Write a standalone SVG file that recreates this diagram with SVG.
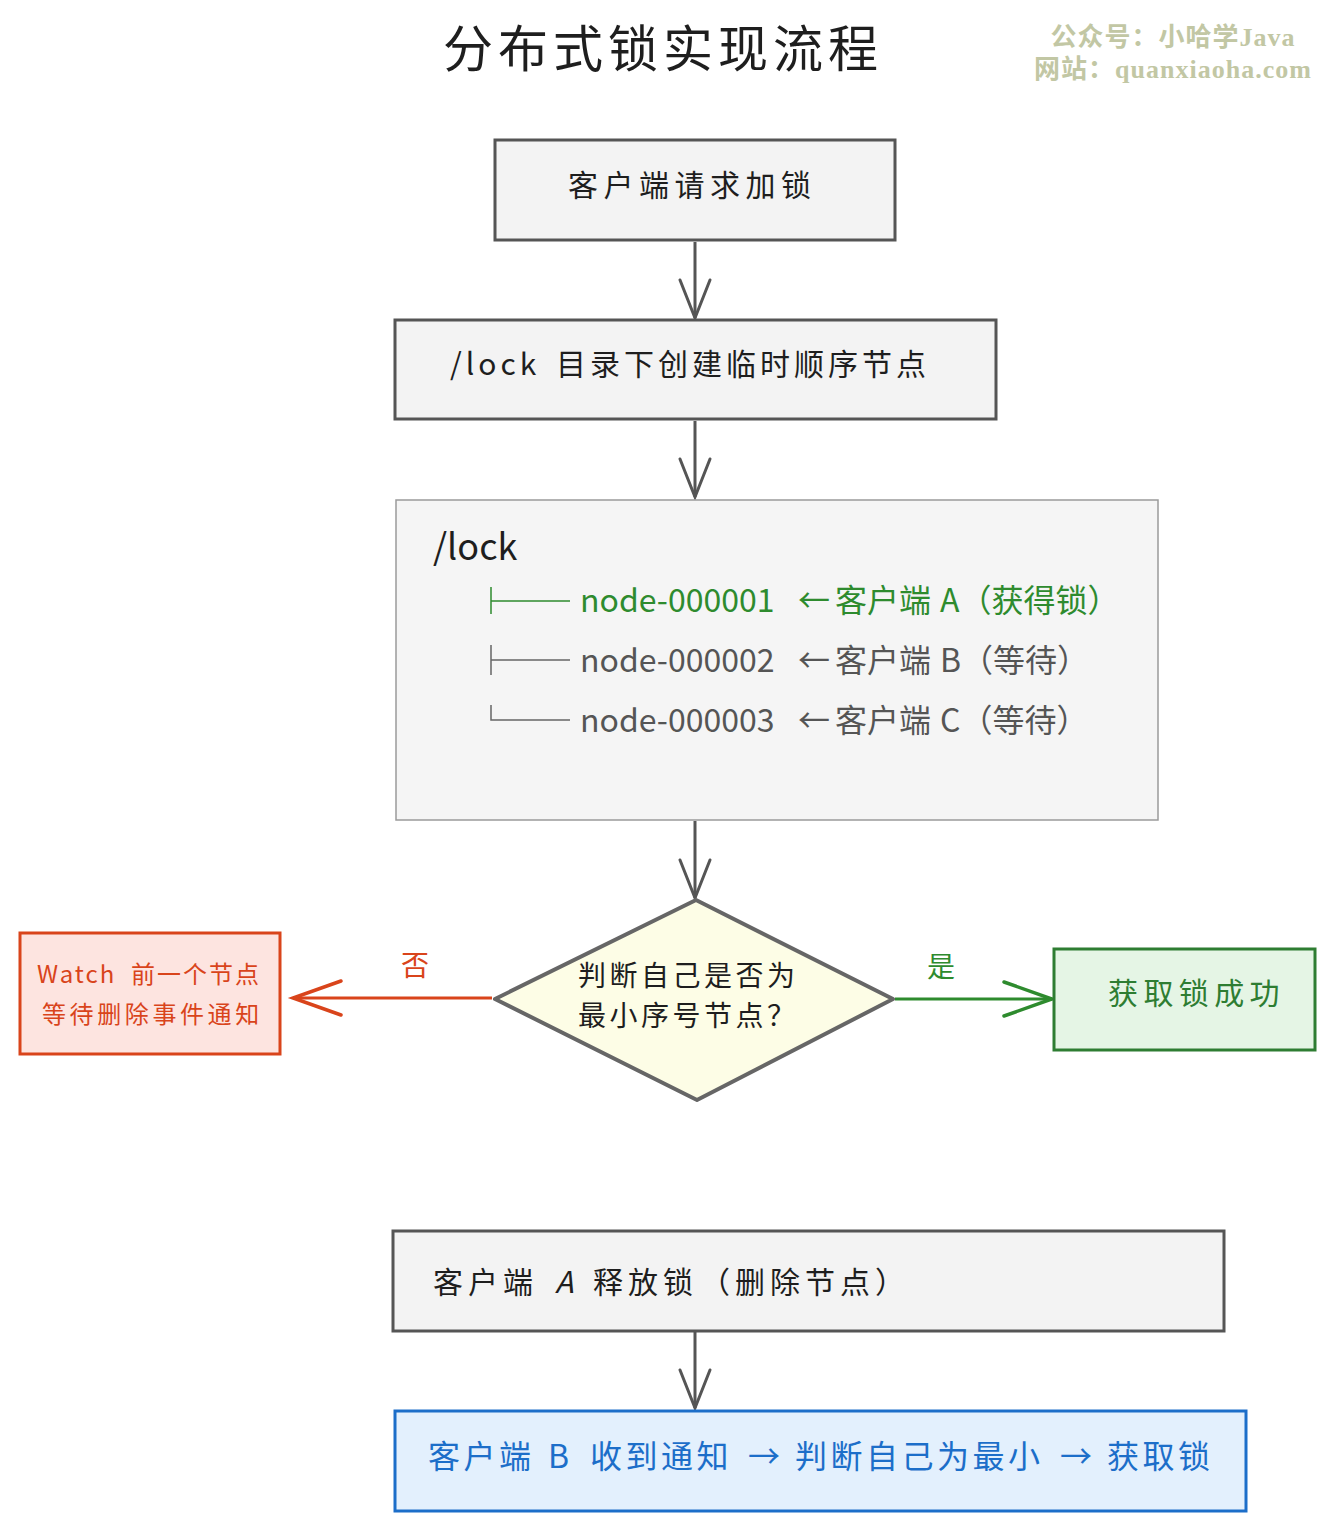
<svg xmlns="http://www.w3.org/2000/svg" width="1335" height="1531" viewBox="0 0 1335 1531">
<defs>
<style>
text{font-family:"Noto Sans CJK SC","Noto Sans",sans-serif;}
.box{fill:#f3f3f3;stroke:#555;stroke-width:3;}
.t{fill:#1e1e1e;font-size:30px;}
.c{stroke:#555;stroke-width:3;fill:none;}
.wm{font-family:"Liberation Serif","Noto Sans CJK SC",serif;font-weight:bold;font-size:26px;fill:#c2c7a4;letter-spacing:1px;}
.tree{font-size:32px;}
</style>
<marker id="ag" markerUnits="userSpaceOnUse" markerWidth="60" markerHeight="60" refX="40" refY="20" orient="auto" viewBox="0 0 60 40">
<path d="M2,5 L40,20 L2,35" fill="none" stroke="#555" stroke-width="3" stroke-linecap="round"/>
</marker>
<marker id="ar" markerUnits="userSpaceOnUse" markerWidth="60" markerHeight="60" refX="50" refY="20" orient="auto" viewBox="0 0 60 40">
<path d="M2,3 L50,20 L2,37" fill="none" stroke="#d9441b" stroke-width="3.5" stroke-linecap="round"/>
</marker>
<marker id="agr" markerUnits="userSpaceOnUse" markerWidth="60" markerHeight="60" refX="50" refY="20" orient="auto" viewBox="0 0 60 40">
<path d="M2,3 L50,20 L2,37" fill="none" stroke="#2e8b2e" stroke-width="3.5" stroke-linecap="round"/>
</marker>
</defs>
<rect width="1335" height="1531" fill="#ffffff"/>
<text x="443" y="67" font-size="50" fill="#1e1e1e" letter-spacing="5">分布式锁实现流程</text>
<text class="wm" x="1173" y="46" text-anchor="middle">公众号：小哈学Java</text>
<text class="wm" x="1173" y="78" text-anchor="middle">网站：quanxiaoha.com</text>

<g id="connectors">
<path class="c" d="M695,242 L695,318" marker-end="url(#ag)"/>
<path class="c" d="M695,421 L695,497" marker-end="url(#ag)"/>
<path class="c" d="M695,821 L695,898" marker-end="url(#ag)"/>
<path d="M492,998 L293,998" stroke="#d9441b" stroke-width="3" fill="none" marker-end="url(#ar)"/>
<text x="415" y="976" text-anchor="middle" font-size="28" fill="#d9441b">否</text>
<path d="M895,999 L1052,999" stroke="#2e8b2e" stroke-width="3" fill="none" marker-end="url(#agr)"/>
<text x="941" y="977" text-anchor="middle" font-size="28" fill="#2e8b2e">是</text>
<path class="c" d="M695,1332 L695,1408" marker-end="url(#ag)"/>
</g>

<g id="n1">
<rect class="box" x="495" y="140" width="400" height="100"/>
<text class="t" x="568" y="196" letter-spacing="5.5">客户端请求加锁</text>
</g>
<g id="n2">
<rect class="box" x="395" y="320" width="601" height="99"/>
<text class="t" x="450" y="375" letter-spacing="4"><tspan>/lock</tspan><tspan x="556">目录下创建临时顺序节点</tspan></text>
</g>
<g id="n3">
<rect x="396" y="500" width="762" height="320" fill="#f5f5f5" stroke="#9a9a9a" stroke-width="1.5"/>
<text x="433" y="560" font-size="36" fill="#1e1e1e">/lock</text>
<path d="M491,587 V614 M491,601 H570" stroke="#2e8b2e" stroke-width="1.5" fill="none"/>
<text class="tree" y="612" fill="#2e8b2e"><tspan x="580">node-000001</tspan><tspan x="798">←</tspan><tspan x="835">客户端</tspan><tspan x="940">A（获得锁）</tspan></text>
<path d="M491,645 V675 M491,660 H570" stroke="#666" stroke-width="1.5" fill="none"/>
<text class="tree" y="672" fill="#555"><tspan x="580">node-000002</tspan><tspan x="798">←</tspan><tspan x="835">客户端</tspan><tspan x="940">B（等待）</tspan></text>
<path d="M491,705 V720 H570" stroke="#666" stroke-width="1.5" fill="none"/>
<text class="tree" y="732" fill="#555"><tspan x="580">node-000003</tspan><tspan x="798">←</tspan><tspan x="835">客户端</tspan><tspan x="940">C（等待）</tspan></text>
</g>
<g id="n4">
<path d="M696,900 L893,999 L697,1100 L495,999 Z" fill="#fdfde6" stroke="#666" stroke-width="4" stroke-linejoin="round"/>
<text x="578" y="986" font-size="28" fill="#1e1e1e" letter-spacing="3.5">判断自己是否为</text>
<text x="578" y="1026" font-size="28" fill="#1e1e1e" letter-spacing="3.5">最小序号节点？</text>
</g>
<g id="n5">
<rect x="20" y="933" width="260" height="121" fill="#fde4e0" stroke="#d9441b" stroke-width="3"/>
<text x="37" y="983" font-size="24" fill="#d9441b" letter-spacing="2"><tspan>Watch</tspan><tspan x="131">前一个节点</tspan></text>
<text x="42" y="1023" font-size="24" fill="#d9441b" letter-spacing="3.6">等待删除事件通知</text>
</g>
<g id="n6">
<rect x="1054" y="949" width="261" height="101" fill="#e5f5e5" stroke="#2e7d32" stroke-width="3"/>
<text x="1108" y="1004" font-size="30" fill="#2e7d32" letter-spacing="5.4">获取锁成功</text>
</g>
<g id="n7">
<rect class="box" x="393" y="1231" width="831" height="100"/>
<text class="t" y="1293" letter-spacing="5"><tspan x="433">客户端</tspan><tspan x="555" font-style="italic">A</tspan><tspan x="593">释放锁</tspan><tspan x="700">（删除节点）</tspan></text>
</g>
<g id="n8">
<rect x="395" y="1411" width="851" height="100" fill="#e3f0fd" stroke="#1c6ec9" stroke-width="3"/>
<text y="1468" font-size="32" fill="#1c6ec9" letter-spacing="3.5"><tspan x="428">客户端</tspan><tspan x="548">B</tspan><tspan x="590">收到通知</tspan><tspan x="748">→</tspan><tspan x="795">判断自己为最小</tspan><tspan x="1060">→</tspan><tspan x="1107">获取锁</tspan></text>
</g>
</svg>
